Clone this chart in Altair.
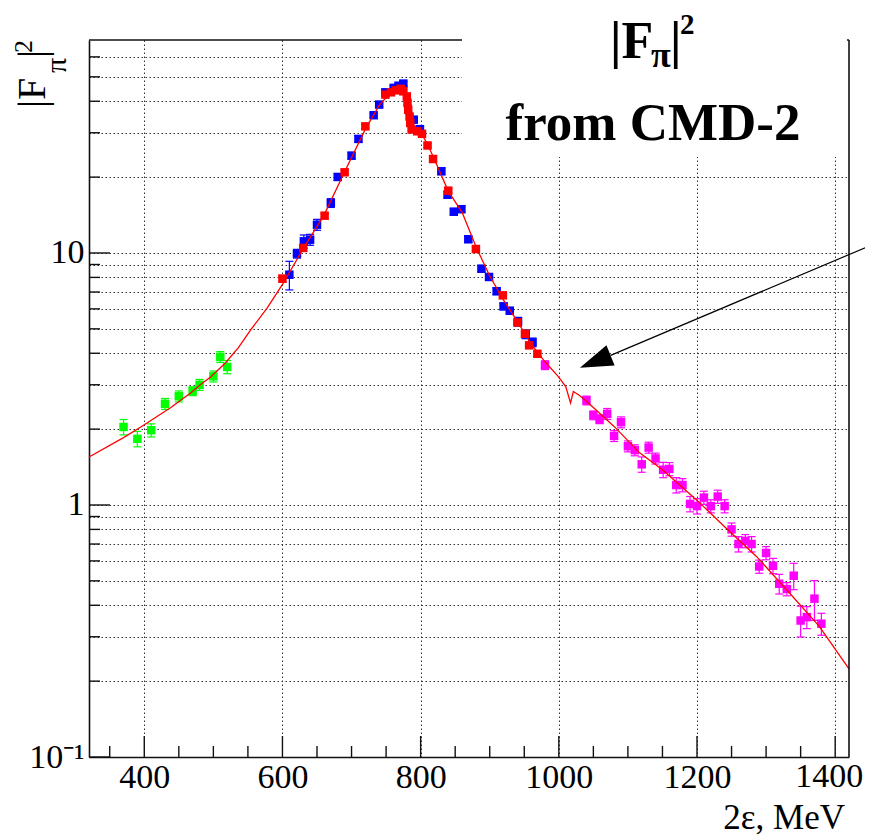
import altair as alt
import pandas as pd

# ---------------- data ----------------
green_x = [370, 390, 410, 430, 450, 470, 480, 500, 510, 520]
green_y = [2.04, 1.83, 1.98, 2.52, 2.70, 2.83, 3.00, 3.24, 3.87, 3.53]
green_err = [0.07, 0.07, 0.06, 0.05, 0.05, 0.04, 0.05, 0.05, 0.05, 0.06]

blue_x = [610, 621, 631, 640, 650, 670, 680, 700, 710, 732, 740, 749, 761, 768, 775,
          790, 799, 830, 839, 848, 859, 869, 888, 899, 910, 920, 929, 941, 952, 962]
blue_y = [8.20, 9.94, 11.12, 11.29, 12.95, 15.79, 20.03, 24.33, 28.35, 35.2, 38.8, 43.4, 45.2, 46.1, 47.0,
          33.8, 31.0, 21.1, 17.03, 14.58, 14.92, 11.34, 8.66, 8.03, 7.05, 6.14, 5.90, 5.34, 4.76, 4.42]
blue_err = [0.13, 0.04, 0.06, 0.05, 0.05, 0.04, 0.03, 0.03, 0.03, 0.02, 0.02, 0.02, 0.02, 0.02, 0.02,
            0.02, 0.02, 0.03, 0.03, 0.03, 0.03, 0.03, 0.03, 0.03, 0.03, 0.03, 0.03, 0.04, 0.04, 0.04]

red_x = [600, 630, 661, 690, 720, 749, 757, 764, 771, 775, 780, 781, 782, 784, 785,
         787, 795, 802, 810, 818, 840, 880, 919, 940, 951, 957, 969]
red_y = [7.91, 10.47, 14.06, 20.9, 31.8, 42.5, 43.4, 44.2, 44.8, 43.8, 41.8, 39.4, 37.0, 34.8, 32.8,
         30.9, 30.4, 29.7, 26.7, 23.6, 17.67, 10.37, 6.79, 5.30, 4.78, 4.30, 3.98]
red_err = [0.03, 0.03, 0.02, 0.02, 0.02, 0.015, 0.015, 0.015, 0.015, 0.015, 0.015, 0.015, 0.015, 0.015, 0.015,
           0.015, 0.015, 0.015, 0.015, 0.02, 0.02, 0.02, 0.02, 0.02, 0.02, 0.02, 0.02]

mag_x = [980, 1040, 1050, 1059, 1070, 1090, 1080, 1100, 1110, 1120, 1130, 1140, 1151, 1160, 1170,
         1179, 1190, 1200, 1210, 1220, 1230, 1240, 1250, 1260, 1270, 1279, 1290, 1300, 1310, 1319,
         1330, 1340, 1350, 1359, 1370, 1380]
mag_y = [3.59, 2.60, 2.27, 2.19, 2.30, 2.13, 1.88, 1.71, 1.65, 1.45, 1.69, 1.53, 1.38, 1.39, 1.20,
         1.20, 1.01, 0.99, 1.07, 0.99, 1.08, 0.99, 0.80, 0.70, 0.72, 0.70, 0.57, 0.645, 0.574, 0.487,
         0.464, 0.524, 0.348, 0.359, 0.425, 0.338]
mag_err = [0.04, 0.04, 0.04, 0.04, 0.05, 0.05, 0.05, 0.05, 0.05, 0.07, 0.05, 0.05, 0.07, 0.06, 0.07,
           0.06, 0.07, 0.07, 0.06, 0.06, 0.06, 0.06, 0.06, 0.07, 0.06, 0.07, 0.06, 0.06, 0.07, 0.09,
           0.06, 0.12, 0.14, 0.10, 0.18, 0.10]

curve_x = [320, 370, 395, 438, 467, 481, 496, 517, 536, 554, 578, 600, 630, 660, 690, 720, 740,
           755, 765, 772, 777, 780, 782, 784, 787, 795, 802, 810, 820, 840, 860, 880,
           900, 920, 940, 960, 980, 999, 1010, 1017, 1021, 1030, 1040, 1080, 1117, 1150, 1199,
           1240, 1286, 1330, 1377, 1420]
curve_y = [1.55, 1.85, 2.04, 2.43, 2.78, 3.00, 3.22, 3.65, 4.2, 4.95, 6.05, 7.5, 10.4, 14.1, 21.0, 31.0, 38.5,
           42.8, 44.5, 45.5, 45.5, 43.0, 37.0, 33.0, 31.5, 30.5, 29.5, 27.0, 23.5, 17.6, 14.5, 10.6,
           8.1, 6.5, 5.35, 4.35, 3.7, 3.24, 2.95, 2.54, 2.82, 2.72, 2.58, 2.05, 1.61, 1.38, 1.05,
           0.82, 0.625, 0.46, 0.330, 0.2235]

x_major = [400, 600, 800, 1000, 1200, 1400]
x_minor = [350, 450, 500, 550, 650, 700, 750, 850, 900, 950, 1050, 1100, 1150, 1250, 1300, 1350]
x_edge_label = [1400]
y_major = [0.1, 1, 10]
y_minor = [0.2, 0.3, 0.4, 0.5, 0.6, 0.7, 0.8, 0.9, 2, 3, 4, 5, 6, 7, 8, 9, 20, 30, 40, 50, 60]

arrow_line = {"x": 1454, "y": 10.79, "x2": 1075, "y2": 3.925}
arrow_head = {"x": 1052.7, "y": 3.707}

FONT = "Liberation Serif"
W, H = 760, 717
XLAB = 34
XPAD = 3

# ---------------- scales / axes ----------------
xs = alt.Scale(domain=[320, 1420], nice=False, zero=False)
ys = alt.Scale(type="log", domain=[0.1, 70], nice=False)

xaxis = alt.Axis(values=x_major, grid=True, gridColor="#333", gridDash=[1.5, 2.5], gridWidth=1,
                 ticks=False, domain=True, domainColor="#111", domainWidth=1.6, format="d",
                 labelExpr="datum.value == 1400 ? '' : datum.label",
                 labelFont=FONT, labelFontSize=XLAB, labelColor="#000", labelPadding=XPAD,
                 labelOverlap=False, labelFlush=False, title=None)
yaxis = alt.Axis(values=sorted(y_major + y_minor), grid=True, gridColor="#333", gridDash=[1.5, 2.5],
                 gridWidth=1, ticks=False, domain=True, domainColor="#111", domainWidth=1.6,
                 labelFont=FONT, labelFontSize=34, labelColor="#000", labelPadding=5,
                 labelOverlap=False, labelFlush=False, title=None,
                 labelExpr="datum.value == 10 ? '10' : (datum.value == 1 ? '1' : (datum.value < 0.11 ? '10⁻¹' : ''))")


def X(f="x"):
    return alt.X(f"{f}:Q", scale=xs, axis=xaxis, title=None)


def Y(f="y"):
    return alt.Y(f"{f}:Q", scale=ys, axis=yaxis, title=None)


def errdf(xv, yv, ev, grp):
    return pd.DataFrame({"x": xv, "y": yv,
                         "lo": [a * (1 - e) for a, e in zip(yv, ev)],
                         "hi": [a * (1 + e) for a, e in zip(yv, ev)],
                         "grp": grp})


pts = pd.concat([errdf(green_x, green_y, green_err, "green"),
                 errdf(mag_x, mag_y, mag_err, "magenta"),
                 errdf(blue_x, blue_y, blue_err, "blue"),
                 errdf(red_x, red_y, red_err, "red")], ignore_index=True)
curve = pd.DataFrame({"x": curve_x, "y": curve_y})

color = alt.Color("grp:N", scale=alt.Scale(domain=["green", "magenta", "blue", "red"],
                                           range=["#00ff00", "#ff00ff", "#0000ff", "#ff0000"]),
                  legend=None)

one = alt.Data(values=[{}])

curve_layer = alt.Chart(curve).mark_line(color="#ff0000", strokeWidth=1.3).encode(
    x=X(), y=Y(), order=alt.Order("x:Q"))

top_frame = alt.Chart(one).mark_rule(color="#111", strokeWidth=1.6).encode(
    x=alt.value(0), x2=alt.value(W), y=alt.value(0))
white_box = alt.Chart(one).mark_rect(color="white", opacity=1).encode(
    x=alt.value(373), x2=alt.value(W - 2), y=alt.value(-40), y2=alt.value(117))
right_frame = alt.Chart(one).mark_rule(color="#111", strokeWidth=1.6).encode(
    x=alt.value(W), y=alt.value(0), y2=alt.value(H))

err_rules = alt.Chart(pts).mark_rule(strokeWidth=1.2).encode(
    x=X(), y=Y("lo"), y2="hi:Q", color=color)
cap_lo = alt.Chart(pts).mark_tick(orient="horizontal", size=8, thickness=1.2, opacity=1).encode(
    x=X(), y=Y("lo"), color=color)
cap_hi = alt.Chart(pts).mark_tick(orient="horizontal", size=8, thickness=1.2, opacity=1).encode(
    x=X(), y=Y("hi"), color=color)
markers = alt.Chart(pts).mark_point(shape="square", filled=True, size=72, opacity=1).encode(
    x=X(), y=Y(), color=color)

xt_major = alt.Chart(pd.DataFrame({"x": x_major})).mark_rule(color="#111", strokeWidth=1.4).encode(
    x=X(), y=alt.value(H), y2=alt.value(H - 21))
xt_minor = alt.Chart(pd.DataFrame({"x": x_minor})).mark_rule(color="#111", strokeWidth=1.4).encode(
    x=X(), y=alt.value(H), y2=alt.value(H - 11))
yt_major = alt.Chart(pd.DataFrame({"y": y_major})).mark_rule(color="#111", strokeWidth=1.4).encode(
    y=Y(), x=alt.value(0), x2=alt.value(21))
yt_minor = alt.Chart(pd.DataFrame({"y": y_minor})).mark_rule(color="#111", strokeWidth=1.4).encode(
    y=Y(), x=alt.value(0), x2=alt.value(11))

# last x tick label, kept inside the page edge
edge_label = alt.Chart(pd.DataFrame({"x": x_edge_label})).mark_text(
    font=FONT, fontSize=XLAB, align="right", baseline="top", dx=28, color="#000"
).encode(x=X(), y=alt.value(H + XPAD), text=alt.Text("x:Q", format="d"))

arrow_rule = alt.Chart(pd.DataFrame([arrow_line])).mark_rule(color="#000", strokeWidth=1.2).encode(
    x=X(), y=Y(), x2="x2:Q", y2="y2:Q")
arrow_tri = alt.Chart(pd.DataFrame([arrow_head])).mark_point(
    shape="M0,-1L0.66,1L-0.66,1Z", filled=True, size=1089, angle=248, color="#000", opacity=1
).encode(x=X(), y=Y())


def txt(s, x, y, size, bold=False, align="left", angle=0, baseline="alphabetic"):
    props = dict(text=s, font=FONT, fontSize=size, align=align, baseline=baseline, color="#000")
    if bold:
        props["fontWeight"] = "bold"
    if angle:
        props["angle"] = angle
    return alt.Chart(one).mark_text(**props).encode(x=alt.value(x), y=alt.value(y))


texts = [
    # plot title (top right)
    txt("|F", 521, 18, 52, bold=True),
    txt("π", 562, 27, 36, bold=True),
    txt("|", 581, 18, 52, bold=True),
    txt("2", 591, -6, 29, bold=True),
    txt("from CMD-2", 564, 100, 53, bold=True, align="center"),
    # x title
    txt("2ε, MeV", 756, 789, 35, align="right"),
    # y title (rotated)
    txt("|F", -44, 68, 40, angle=270),
    txt("π", -23, 33, 30, angle=270),
    txt("|", -44, 18, 40, angle=270),
    txt("2", -57, 13, 26, angle=270),
]

chart = alt.layer(
    curve_layer.mark_line(opacity=0),
    top_frame, white_box,
    err_rules, cap_lo, cap_hi, markers, curve_layer,
    right_frame, xt_major, xt_minor, yt_major, yt_minor, edge_label,
    arrow_rule, arrow_tri, *texts
).properties(
    width=W, height=H,
    padding={"left": 81, "top": 32, "right": 16, "bottom": 81},
    autosize=alt.AutoSizeParams(type="none"),
    background="white",
).configure_view(stroke="transparent")

chart.save("out.html", embed_options={"renderer": "svg", "actions": False})
